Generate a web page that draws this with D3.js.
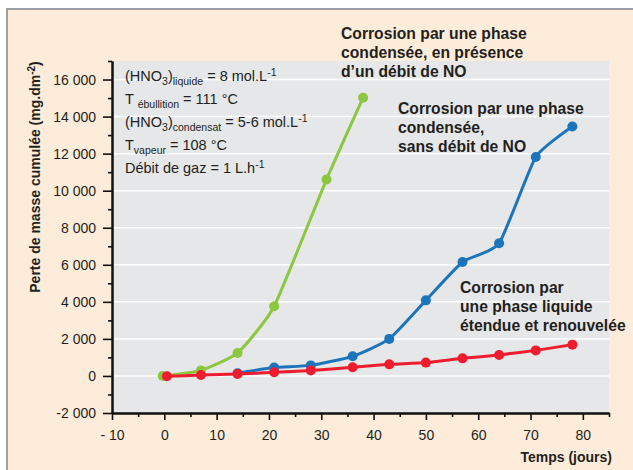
<!DOCTYPE html>
<html>
<head>
<meta charset="utf-8">
<script src="https://cdn.jsdelivr.net/npm/d3@7"></script>
<style>
  html, body { margin: 0; padding: 0; background: #ffffff; }
  svg { display: block; font-family: "Liberation Sans", Arial, sans-serif; }
</style>
</head>
<body>
<svg id="chart" width="633" height="470"></svg>
<script>
// Corrosion data: cumulative mass loss (mg.dm-2) versus time (days)
const greenDays   = [-0.3, 7, 14, 21, 31, 38];
const greenValues = [0, 300, 1240, 3760, 10600, 15020];

const blueDays   = [14, 21, 28, 36, 43, 50, 57, 64, 71, 78];
const blueValues = [150, 450, 570, 1060, 2000, 4080, 6150, 7160, 11820, 13460];

const redDays   = [0.5, 7, 14, 21, 28, 36, 43, 50, 57, 64, 71, 78];
const redValues = [-20, 50, 110, 195, 300, 465, 625, 720, 950, 1135, 1380, 1690];

const xTickValues = [-10, 0, 10, 20, 30, 40, 50, 60, 70, 80];
const xTickLabels = ["- 10", "0", "10", "20", "30", "40", "50", "60", "70", "80"];
const xMinorTicks = [-5, 5, 15, 25, 35, 45, 55, 65, 75, 85];

const yTickValues = [-2000, 0, 2000, 4000, 6000, 8000, 10000, 12000, 14000, 16000];
const yTickLabels = ["-2 000", "0", "2 000", "4 000", "6 000", "8 000", "10 000", "12 000", "14 000", "16 000"];
const yMinorTicks = [-1000, 1000, 3000, 5000, 7000, 9000, 11000, 13000, 15000, 17000];

const seriesNames = [
  "Corrosion par une phase condensée, en présence d'un débit de NO",
  "Corrosion par une phase condensée, sans débit de NO",
  "Corrosion par une phase liquide étendue et renouvelée"
];

const svg = d3.select("#chart");
const W = 633, H = 470;
const plot = { left: 112, right: 609, top: 61, bottom: 413 };

const x = d3.scaleLinear().domain([-10, 85]).range([plot.left, plot.right]);
const y = d3.scaleLinear().domain([-2000, 17000]).range([plot.bottom, plot.top]);

// Outer panel with grey frame on the top/left
svg.append("rect").attr("x", 7).attr("y", 9).attr("width", W).attr("height", H)
  .attr("fill", "#fdecd9").attr("stroke", "#9aa1a4").attr("stroke-width", 2);

// Plot background
svg.append("rect")
  .attr("x", plot.left).attr("y", plot.top)
  .attr("width", plot.right - plot.left).attr("height", plot.bottom - plot.top)
  .attr("fill", "#e6e7e8");

// Horizontal gridlines
svg.append("g").selectAll("line")
  .data(yTickValues.filter(v => v > -2000))
  .join("line")
  .attr("x1", plot.left).attr("x2", plot.right)
  .attr("y1", d => y(d)).attr("y2", d => y(d))
  .attr("stroke", "#ffffff").attr("stroke-width", 1.5);

// Info block
const info = svg.append("g").attr("fill", "#231f20").style("font-size", "14.5px");
function infoLine(yy, parts) {
  const t = info.append("text").attr("x", 125).attr("y", yy);
  let shift = 0;
  parts.forEach(p => {
    const s = p.sub ? 4 : p.sup ? -5 : 0;
    t.append("tspan").attr("dy", s - shift)
      .style("font-size", (p.sub || p.sup) ? "10.5px" : "14.5px")
      .text(p.t);
    shift = s;
  });
}
infoLine(81, [{t: "(HNO"}, {t: "3", sub: true}, {t: ")"}, {t: "liquide", sub: true}, {t: " = 8 mol.L"}, {t: "-1", sup: true}]);
infoLine(104, [{t: "T "}, {t: "ébullition", sub: true}, {t: " = 111 °C"}]);
infoLine(127, [{t: "(HNO"}, {t: "3", sub: true}, {t: ")"}, {t: "condensat", sub: true}, {t: " = 5-6 mol.L"}, {t: "-1", sup: true}]);
infoLine(150, [{t: "T"}, {t: "vapeur", sub: true}, {t: " = 108 °C"}]);
infoLine(173, [{t: "Débit de gaz = 1 L.h"}, {t: "-1", sup: true}]);

// Axes
svg.append("g").attr("transform", `translate(${plot.left},0)`)
  .call(d3.axisLeft(y).tickValues(yTickValues).tickSize(9).tickSizeOuter(0).tickPadding(7)
    .tickFormat((d, i) => yTickLabels[i]));
svg.append("g").attr("transform", `translate(${plot.left},0)`)
  .call(d3.axisLeft(y).tickValues(yMinorTicks).tickSize(4).tickSizeOuter(0).tickFormat(""));

svg.append("g").attr("transform", `translate(0,${plot.bottom})`)
  .call(d3.axisBottom(x).tickValues(xTickValues).tickSize(7).tickSizeOuter(0).tickPadding(10)
    .tickFormat((d, i) => xTickLabels[i]));
svg.append("g").attr("transform", `translate(0,${plot.bottom})`)
  .call(d3.axisBottom(x).tickValues(xMinorTicks).tickSize(4).tickSizeOuter(0).tickFormat(""));

svg.selectAll(".domain").attr("stroke", "#111").attr("stroke-width", 2);
svg.selectAll(".tick line").attr("stroke", "#111").attr("stroke-width", 1.6);
svg.selectAll(".tick text").attr("fill", "#231f20")
  .style("font-size", "14px").style("font-family", "'Liberation Sans', Arial, sans-serif");

// Series
const series = [
  { days: greenDays, values: greenValues, color: "#8dc63f" },
  { days: blueDays, values: blueValues, color: "#1c75bc" },
  { days: redDays, values: redValues, color: "#ed1c2e" }
];
const line = d3.line()
  .x(d => x(d[0])).y(d => y(d[1]))
  .curve(d3.curveCardinal.tension(0.5));

series.forEach((s, k) => {
  const pts = s.days.map((d, i) => [d, s.values[i]]);
  const g = svg.append("g").attr("class", "series").attr("data-name", seriesNames[k]);
  g.append("path").datum(pts)
    .attr("d", line).attr("fill", "none")
    .attr("stroke", s.color).attr("stroke-width", 3).attr("stroke-linejoin", "round");
  g.selectAll("circle").data(pts).join("circle")
    .attr("cx", d => x(d[0])).attr("cy", d => y(d[1])).attr("r", 5)
    .attr("fill", s.color);
});

// Series labels
const lab = svg.append("g").attr("fill", "#231f20")
  .style("font-size", "15.7px").style("font-weight", "bold");
function block(x0, y0, lines) {
  lines.forEach((l, i) => lab.append("text").attr("x", x0).attr("y", y0 + i * 19).text(l));
}
block(341, 39, ["Corrosion par une phase", "condensée, en présence", "d\u2019un débit de NO"]);
block(398, 114, ["Corrosion par une phase", "condensée,", "sans débit de NO"]);
block(460, 293, ["Corrosion par", "une phase liquide", "étendue et renouvelée"]);

// Axis titles
svg.append("text").attr("x", 612).attr("y", 462).attr("text-anchor", "end")
  .attr("fill", "#231f20").style("font-size", "14px").style("font-weight", "bold")
  .text("Temps (jours)");

const yt = svg.append("text").attr("transform", "translate(40,177) rotate(-90)")
  .attr("text-anchor", "middle").attr("fill", "#231f20")
  .style("font-size", "14px").style("font-weight", "bold");
yt.append("tspan").text("Perte de masse cumulée (mg.dm");
yt.append("tspan").attr("dy", -5).style("font-size", "10px").text("-2");
yt.append("tspan").attr("dy", 5).text(")");
</script>
</body>
</html>
